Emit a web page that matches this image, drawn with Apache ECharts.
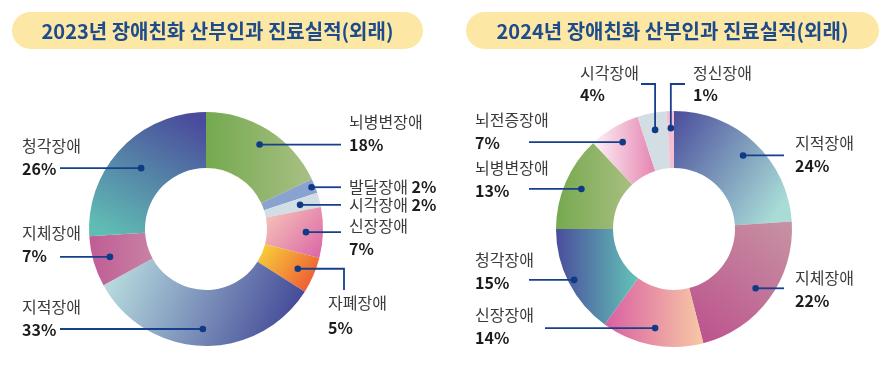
<!DOCTYPE html>
<html><head><meta charset="utf-8">
<script src="https://cdn.jsdelivr.net/npm/echarts@6/dist/echarts.min.js"></script>
<style>html,body{margin:0;padding:0;background:#fff}#c{width:888px;height:367px}</style>
</head><body><div id="c"></div>
<script>
// ---------- data ----------
const titles = ['2023년 장애친화 산부인과 진료실적(외래)', '2024년 장애친화 산부인과 진료실적(외래)'];
const cats2023 = ['뇌병변장애', '발달장애', '시각장애', '신장장애', '자폐장애', '지적장애', '지체장애', '청각장애'];
const vals2023 = [18, 2, 2, 7, 5, 33, 7, 26];
const cats2024 = ['지적장애', '지체장애', '신장장애', '청각장애', '뇌병변장애', '뇌전증장애', '시각장애', '정신장애'];
const vals2024 = [24, 22, 14, 15, 13, 7, 4, 1];

// ---------- styles ----------
const FONT = '"Noto Sans CJK KR", "Noto Sans", sans-serif';
const LINE = '#173f8c', DOT = '#0f3a88';
const FS = 16;
function lg(x, y, x2, y2, c1, c2) {
  return { type: 'linear', x: x, y: y, x2: x2, y2: y2, colorStops: [{ offset: 0, color: c1 }, { offset: 1, color: c2 }] };
}
const colors2023 = {
  '뇌병변장애': lg(0, 0, 1, 0, '#74a94f', '#a9c084'),
  '발달장애': '#8aa2d0',
  '시각장애': '#d2dee6',
  '신장장애': lg(0, 0, 1, 1, '#f7c9b9', '#db63a6'),
  '자폐장애': lg(0, 0, 1, 1, '#f8d83a', '#ec4a34'),
  '지적장애': lg(0, 0, 1, 1, '#bfe6e3', '#373a90'),
  '지체장애': lg(0, 0, 1, 0, '#c05c95', '#c782a3'),
  '청각장애': lg(0.8, 0, 0.2, 1, '#4a4b9c', '#60bdb3')
};
const colors2024 = {
  '지적장애': lg(0, 0, 1, 0.7, '#4a4d9c', '#a8dcd6'),
  '지체장애': lg(0, 1, 1, 0, '#bc4f8c', '#c793a3'),
  '신장장애': lg(0, 0, 1, 0, '#da5ea3', '#f7c9a5'),
  '청각장애': lg(0, 0, 1, 0, '#4a4d9c', '#63c4b7'),
  '뇌병변장애': lg(0, 0, 1, 0, '#76a94f', '#a8bf80'),
  '뇌전증장애': lg(0, 0, 1, 0, '#fdf2f6', '#e684b1'),
  '시각장애': '#d2dde4',
  '정신장애': '#f4bfd3'
};

// ---------- layout ----------
const charts = [
  { cx: 206, cy: 229, r0: 61, r: 117, pill: [12, 12, 411, 37],
    lay: { rLine: 341, rCol: 349, lLine: 60, lCol: 22, items: {
      '뇌병변장애': { mode: 'R', ny: -23 },
      '발달장애': { mode: 'R', inline: true, rf: 0.97 },
      '시각장애': { mode: 'R', inline: true, rf: 0.83 },
      '신장장애': { mode: 'R', ny: -6 },
      '자폐장애': { mode: 'down', ex: 344, ey: 290, tx: 328, ty: 303 },
      '지적장애': { mode: 'L', ny: -22 },
      '지체장애': { mode: 'L', ny: -24 },
      '청각장애': { mode: 'L', ny: -22, rf: 0.76 }
    } } },
  { cx: 674, cy: 229, r0: 61, r: 118, pill: [466, 12, 413, 37],
    lay: { rLine: 784, rCol: 795, lLine: 529, lCol: 475, items: {
      '지적장애': { mode: 'R', ny: -13 },
      '지체장애': { mode: 'R', ny: -10 },
      '신장장애': { mode: 'L', ny: -13, lLine: 545 },
      '청각장애': { mode: 'L', ny: -20, rf: 0.95 },
      '뇌병변장애': { mode: 'L', ny: -21 },
      '뇌전증장애': { mode: 'L', ny: -22 },
      '시각장애': { mode: 'upL', ex: 641, ey: 84, tx: 580, ty: 73 },
      '정신장애': { mode: 'upR', ex: 685, ey: 84, tx: 693, ty: 73 }
    } } }
];
const DOT_RF = 0.855;

function T(x, y, text, bold) {
  return { type: 'text', style: { x: x, y: y, text: text, fill: bold ? '#1c1c1c' : '#3a3a3a',
    fontSize: FS, fontFamily: FONT, fontWeight: bold ? 'bold' : 'normal', align: 'left', verticalAlign: 'middle' } };
}
function RT(x, y, name, pct) {
  return { type: 'text', style: { x: x, y: y, text: '{n|' + name + '} {p|' + pct + '}', align: 'left', verticalAlign: 'middle',
    fontSize: FS, fontFamily: FONT,
    rich: { n: { fontSize: FS, fontFamily: FONT, fill: '#3a3a3a', color: '#3a3a3a' },
            p: { fontSize: FS, fontFamily: FONT, fontWeight: 'bold', fill: '#1c1c1c', color: '#1c1c1c' } } } };
}

function makeRender(names, vals, lay) {
  return function (params, api) {
    const k = api.value(2);
    const p = api.coord([api.value(0), api.value(1)]);
    const x = p[0], y = p[1];
    const name = names[k], pct = vals[k] + '%';
    const c = lay.items[name];
    const kids = [];
    let pts;
    if (c.mode === 'R' || c.mode === 'L') {
      const right = c.mode === 'R';
      pts = [[x, y], [right ? lay.rLine : (c.lLine || lay.lLine), y]];
      const tx = right ? lay.rCol : lay.lCol;
      if (c.inline) kids.push(RT(tx, y, name, pct));
      else { kids.push(T(tx, y + c.ny, name, false)); kids.push(T(tx, y + c.ny + 23, pct, true)); }
    } else if (c.mode === 'down') {
      pts = [[x, y], [c.ex, y], [c.ex, c.ey]];
      kids.push(T(c.tx, c.ty, name, false)); kids.push(T(c.tx, c.ty + 25, pct, true));
    } else {
      pts = [[x, y], [x, c.ey], [c.ex, c.ey]];
      kids.push(T(c.tx, c.ty, name, false)); kids.push(T(c.tx, c.ty + 22, pct, true));
    }
    kids.unshift({ type: 'polyline', shape: { points: pts }, style: { stroke: LINE, lineWidth: 1.8, fill: null } });
    kids.push({ type: 'circle', shape: { cx: x, cy: y, r: 3.3 }, style: { fill: DOT } });
    return { type: 'group', children: kids };
  };
}

const sets = [[cats2023, vals2023, colors2023], [cats2024, vals2024, colors2024]];
const series = [], polar = [], angleAxis = [], radiusAxis = [], graphic = [];
sets.forEach(function (s, i) {
  const names = s[0], vals = s[1], cols = s[2], ch = charts[i];
  series.push({
    type: 'pie', z: 1, center: [ch.cx, ch.cy], radius: [ch.r0, ch.r], startAngle: 90, clockwise: true,
    silent: true, label: { show: false }, labelLine: { show: false },
    data: names.map(function (n, k) { return { name: n, value: vals[k], itemStyle: { color: cols[n] } }; })
  });
  polar.push({ center: [ch.cx, ch.cy], radius: ch.r });
  angleAxis.push({ polarIndex: i, type: 'value', min: 0, max: 100, startAngle: 90, clockwise: true, show: false,
    axisLine: { show: false }, axisTick: { show: false }, axisLabel: { show: false }, splitLine: { show: false } });
  radiusAxis.push({ polarIndex: i, type: 'value', min: 0, max: 1, show: false,
    axisLine: { show: false }, axisTick: { show: false }, axisLabel: { show: false }, splitLine: { show: false } });
  let cum = 0;
  const pts = names.map(function (n, k) {
    const mid = cum + vals[k] / 2; cum += vals[k];
    const it = ch.lay.items[n];
    return [it.rf || DOT_RF, mid, k];
  });
  series.push({ type: 'custom', coordinateSystem: 'polar', polarIndex: i, silent: true, z: 10, zlevel: 0,
    renderItem: makeRender(names, vals, ch.lay), data: pts, clip: false });
  const pl = ch.pill;
  graphic.push({ type: 'rect', shape: { x: pl[0], y: pl[1], width: pl[2], height: pl[3], r: pl[3] / 2 }, style: { fill: '#fce8a4' } });
  graphic.push({ type: 'text', style: { x: pl[0] + pl[2] / 2, y: pl[1] + pl[3] / 2 + 1, text: titles[i], align: 'center', verticalAlign: 'middle',
    fontSize: 20, fontWeight: 'bold', fontFamily: FONT, fill: '#1d4b8c' } });
});

const chart = echarts.init(document.getElementById('c'), null, { renderer: 'canvas' });
chart.setOption({ animation: false, backgroundColor: '#fff', polar: polar, angleAxis: angleAxis, radiusAxis: radiusAxis,
  series: series, graphic: graphic });
</script></body></html>
